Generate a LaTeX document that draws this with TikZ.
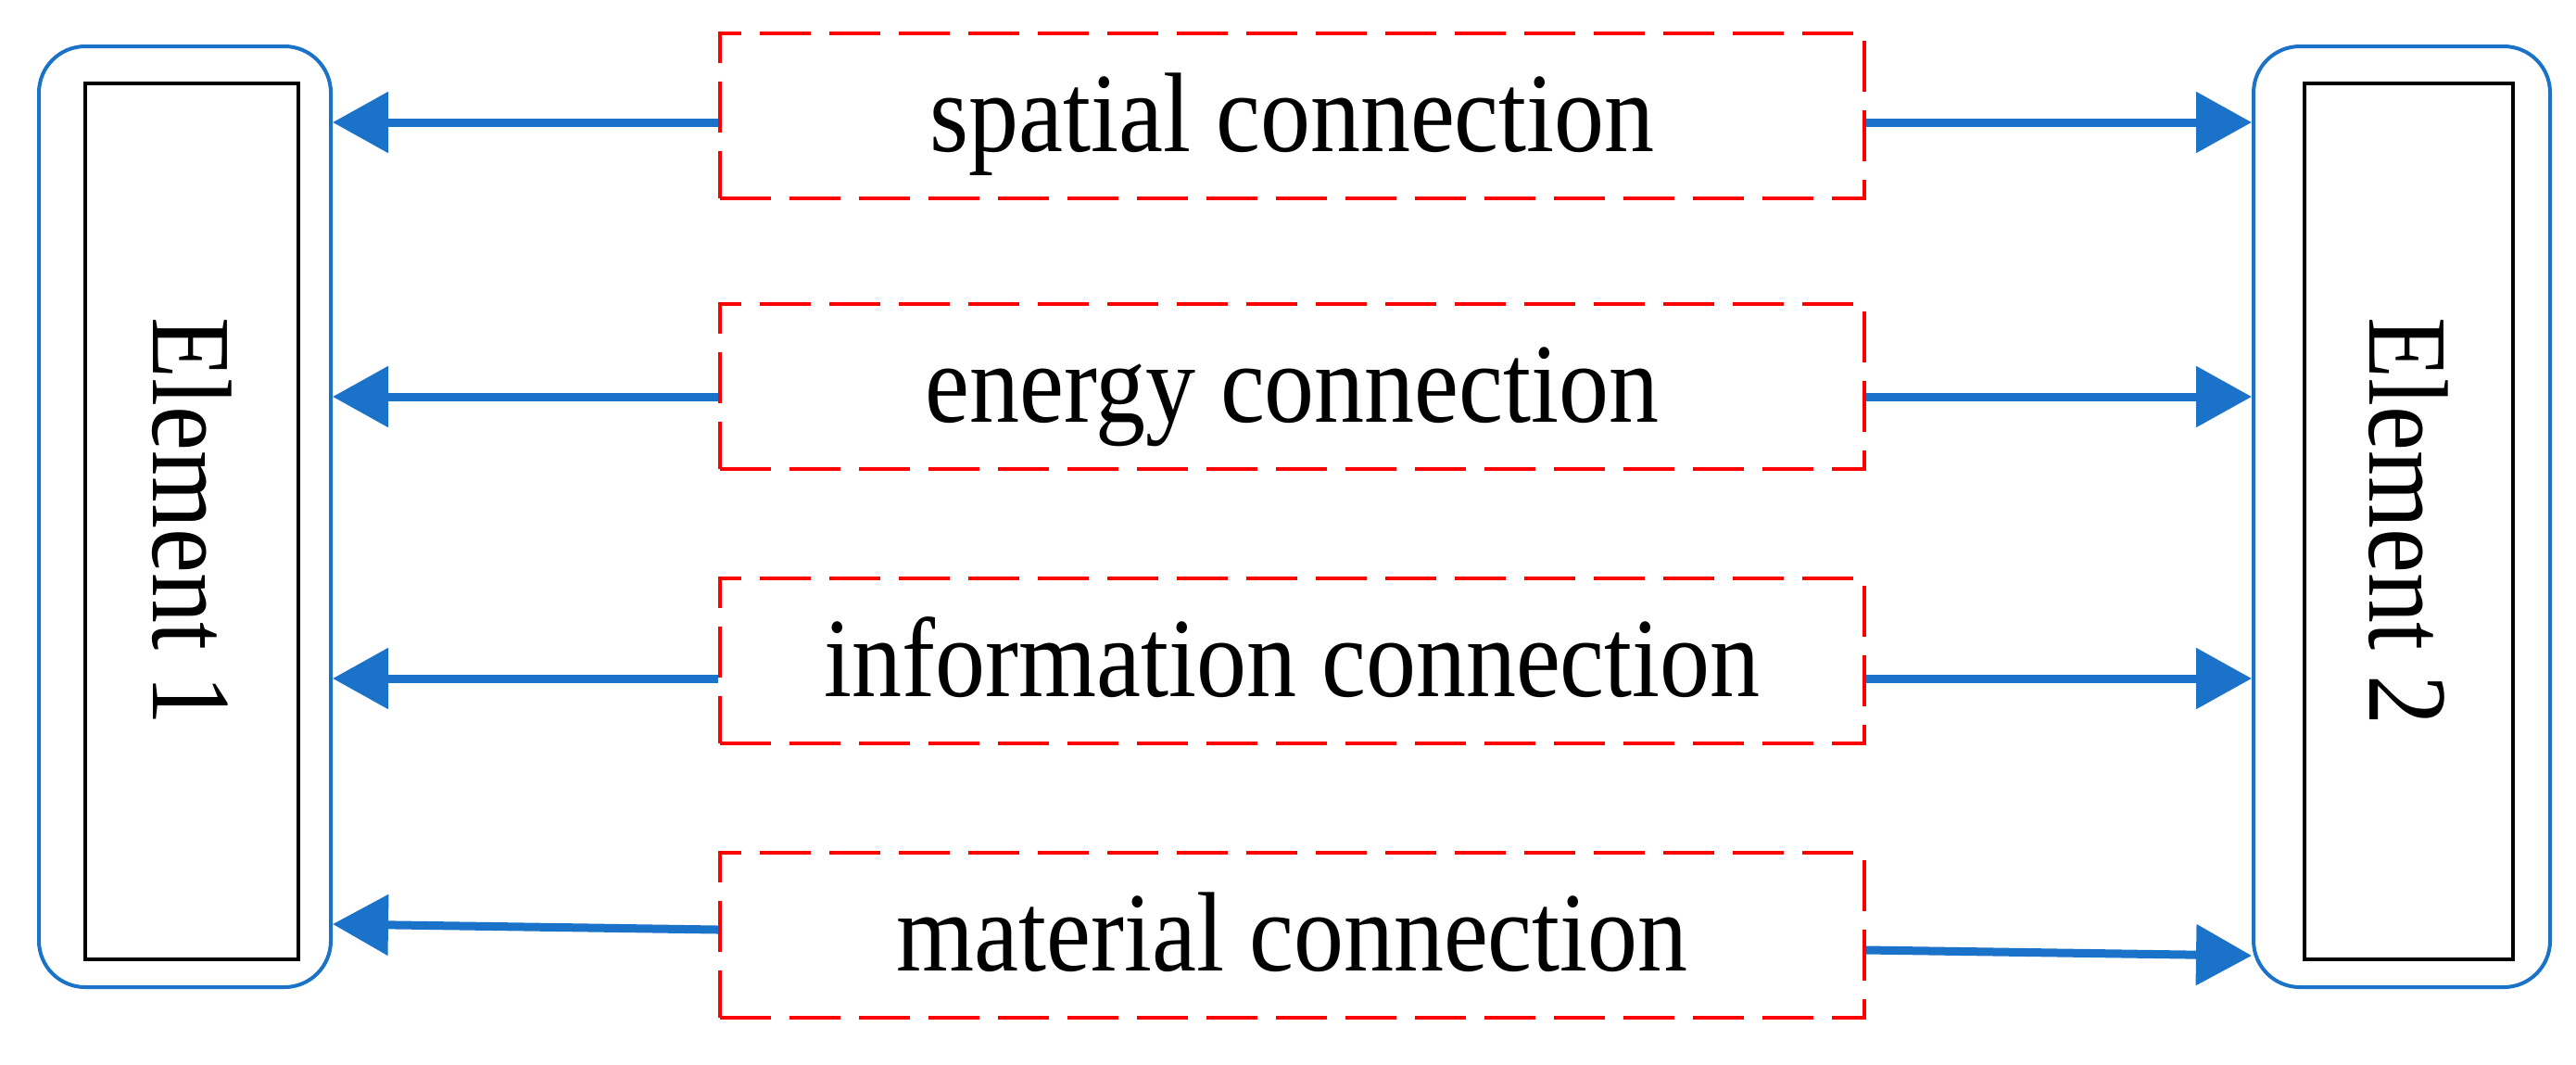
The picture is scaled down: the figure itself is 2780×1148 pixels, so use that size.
\documentclass[tikz,border=0pt]{standalone}
\usepackage{fontspec}
\setmainfont{Liberation Serif}[FakeStretch=0.885]
\usetikzlibrary{arrows.meta,calc}
\definecolor{linkblue}{RGB}{26,115,200}
\definecolor{dashred}{RGB}{255,0,0}
\begin{document}
\begin{tikzpicture}[x=0.25pt,y=-0.25pt,
  outerbox/.style={draw=linkblue,line width=1pt,rounded corners=12.5pt,minimum height=253.75pt,inner sep=0pt},
  elembox/.style={draw=black,line width=1pt,rotate=-90,inner sep=0pt,minimum width=236.25pt,font=\fontsize{30.5}{36}\selectfont},
  linkbox/.style={draw=dashred,line width=1pt,dash pattern=on 13.75pt off 5pt,minimum width=308.75pt,minimum height=44.5pt,inner sep=0pt,text height=25.5pt,text depth=6.25pt,font=\fontsize{30.5}{36}\selectfont},
  conn/.style={draw=linkblue,line width=2.25pt,-{Triangle[length=15pt,width=16pt]}}]
\useasboundingbox (0,0) rectangle (2780,1148);
% element boxes
\node[outerbox,minimum width=78.75pt] (e1o) at (199.5,557.5) {};
\node[elembox,minimum height=57.5pt] (e1) at (207,562.5) {Element 1};
\node[outerbox,minimum width=80pt] (e2o) at (2592,557.5) {};
\node[elembox,minimum height=56.25pt] (e2) at (2599.5,562.5) {Element 2};
% connection boxes
\node[linkbox] (r1) at (1394.5,124.5) {spatial connection};
\node[linkbox] (r2) at (1394.5,417) {energy connection};
\node[linkbox] (r3) at (1394.5,712.5) {information connection};
\node[linkbox] (r4) at (1394.5,1009) {material connection};
% arrow end points
\coordinate (l1) at ($(r1.west)+(0,7.5)$);
\coordinate (q1) at ($(r1.east)+(0,7.5)$);
\coordinate (l2) at ($(r2.west)+(0,11)$);
\coordinate (q2) at ($(r2.east)+(0,11)$);
\coordinate (l3) at ($(r3.west)+(0,19.5)$);
\coordinate (q3) at ($(r3.east)+(0,19.5)$);
\coordinate (l4) at ($(r4.west)+(0,-6)$);
\coordinate (l4t) at ($(r4.west)+(0,-12)$);
\coordinate (q4) at ($(r4.east)+(0,16)$);
\coordinate (q4t) at ($(r4.east)+(0,22)$);
% arrows
\draw[conn] (l1) -- (l1 -| e1o.east);
\draw[conn] (q1) -- (q1 -| e2o.west);
\draw[conn] (l2) -- (l2 -| e1o.east);
\draw[conn] (q2) -- (q2 -| e2o.west);
\draw[conn] (l3) -- (l3 -| e1o.east);
\draw[conn] (q3) -- (q3 -| e2o.west);
\draw[conn] (l4) -- (l4t -| e1o.east);
\draw[conn] (q4) -- (q4t -| e2o.west);
\end{tikzpicture}
\end{document}
